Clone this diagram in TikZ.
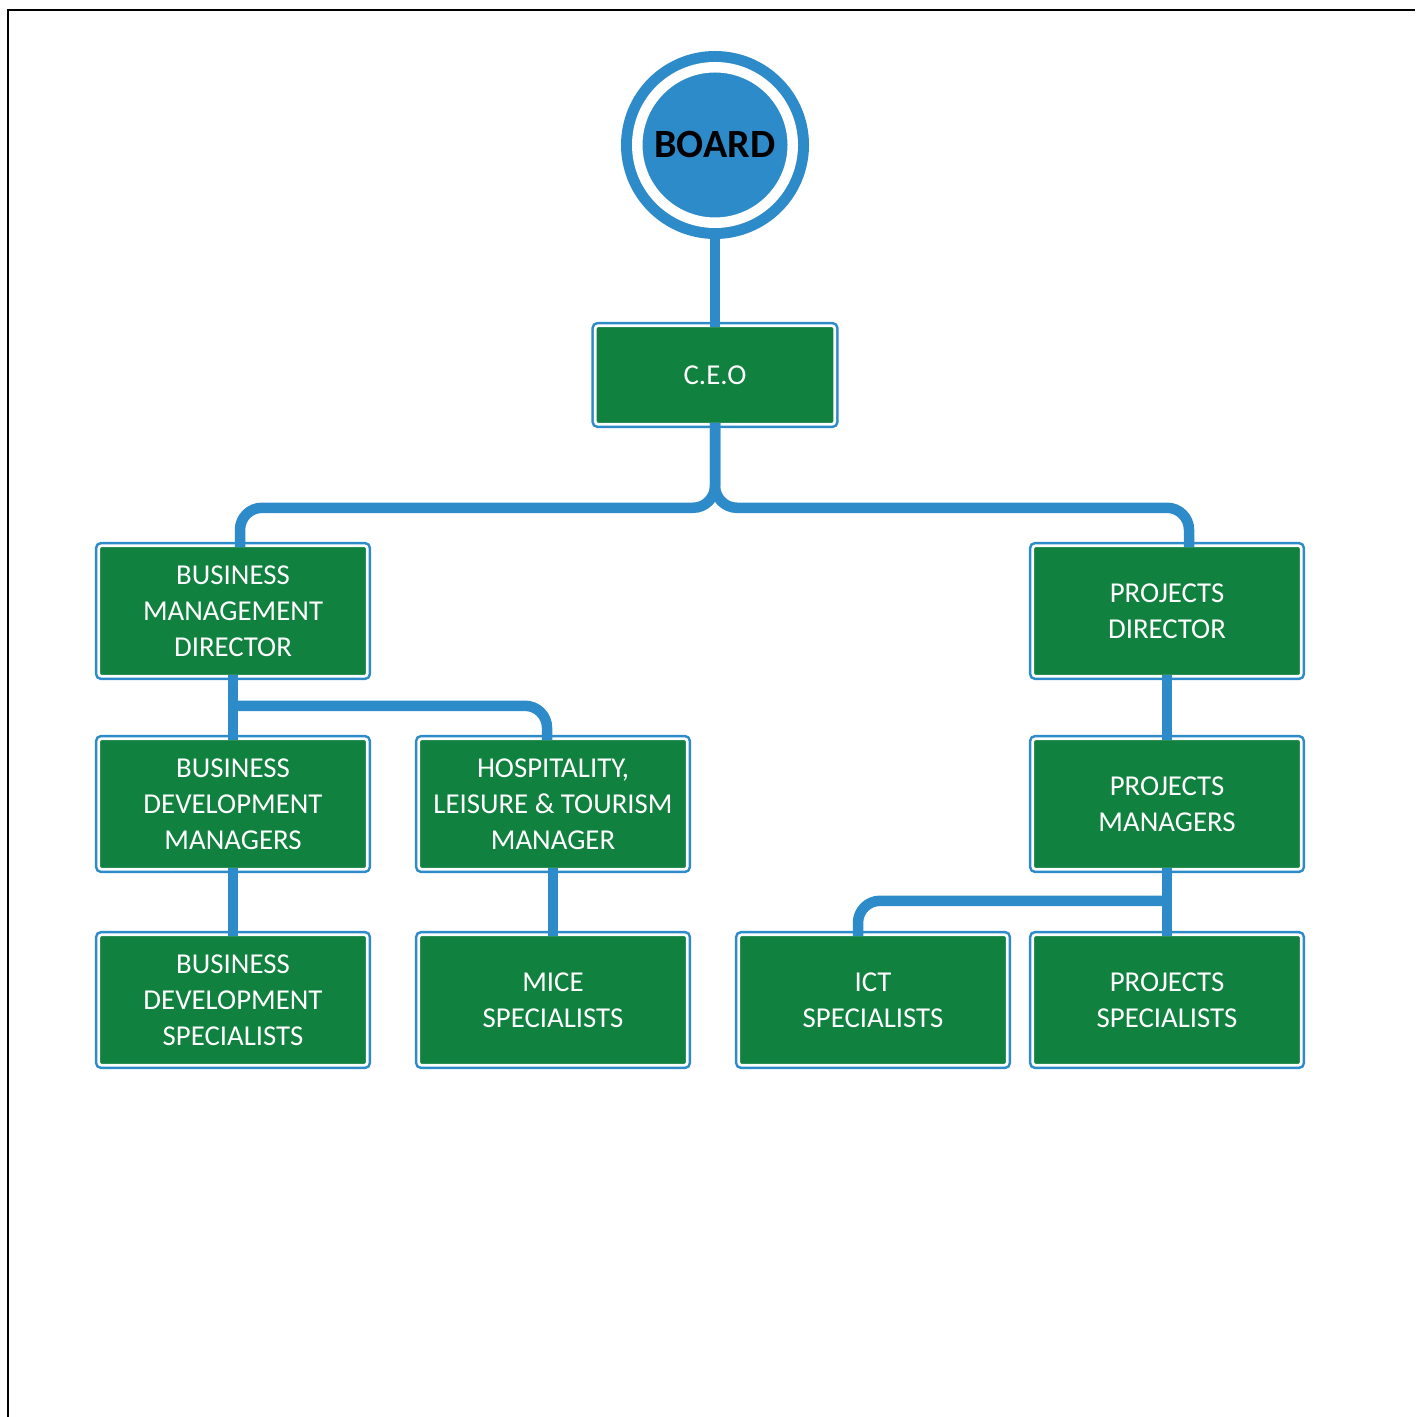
\documentclass[tikz,border=0pt]{standalone}
\usepackage{fontspec}
\setmainfont{Carlito}
\definecolor{lineblue}{RGB}{46,139,202}
\definecolor{boxgreen}{RGB}{17,129,64}

\begin{document}
\begin{tikzpicture}[x=0.1mm, y=-0.1mm,
    orgbox/.style={rectangle, rounded corners=0.3mm, fill=boxgreen, draw=white, line width=0.27mm,
        preaction={draw=lineblue, line width=0.78mm},
        minimum width=26.86mm, minimum height=13.06mm, inner sep=0pt, outer sep=-0.15mm,
        align=center, text=white, font=\fontsize{8.2}{10.2}\selectfont},
    link/.style={draw=lineblue, line width=1.05mm, rounded corners=2.2mm}]
    \useasboundingbox (0,0) rectangle (1415,1417);

    % page frame
    \draw[line width=0.25mm] (8,1417) -- (8,10) -- (1415,10);

    % board
    \node[circle, fill=lineblue, draw=white, line width=1.05mm,
        preaction={draw=lineblue, line width=3.25mm},
        minimum size=15.55mm, inner sep=0pt, outer sep=1.6mm,
        font=\fontsize{11.4}{13}\selectfont\bfseries] (board) at (715,145) {BOARD};

    % boxes
    \node[orgbox, minimum width=23.96mm, minimum height=9.86mm] (ceo) at (715,375) {C.E.O};

    \node[orgbox] (bmd) at (233,611) {BUSINESS\\MANAGEMENT\\DIRECTOR};
    \node[orgbox] (pd) at (1167,611) {PROJECTS\\DIRECTOR};

    \node[orgbox] (bdm) at (233,804) {BUSINESS\\DEVELOPMENT\\MANAGERS};
    \node[orgbox] (hlt) at (553,804) {HOSPITALITY,\\LEISURE \& TOURISM\\MANAGER};
    \node[orgbox] (pm) at (1167,804) {PROJECTS\\MANAGERS};

    \node[orgbox] (bds) at (233,1000) {BUSINESS\\DEVELOPMENT\\SPECIALISTS};
    \node[orgbox] (mice) at (553,1000) {MICE\\SPECIALISTS};
    \node[orgbox] (ict) at (873,1000) {ICT\\SPECIALISTS};
    \node[orgbox] (ps) at (1167,1000) {PROJECTS\\SPECIALISTS};

    % connectors
    \draw[link] (board.south) -- (ceo.north);
    \draw[link] (ceo.south) -- ++(0,85) -| ([xshift=0.7mm]bmd.north);
    \draw[link] (ceo.south) -- ++(0,85) -| ([xshift=2.2mm]pd.north);

    \draw[link] (bmd) -- (bdm);
    \draw[link] ([yshift=-3.1mm]bmd.south) -| ([xshift=-0.6mm]hlt.north);
    \draw[link] (bdm) -- (bds);
    \draw[link] (hlt) -- (mice);

    \draw[link] (pd) -- (pm);
    \draw[link] (pm) -- (ps);
    \draw[link] ([yshift=-3.3mm]pm.south) -| ([xshift=-1.5mm]ict.north);

\end{tikzpicture}
\end{document}
